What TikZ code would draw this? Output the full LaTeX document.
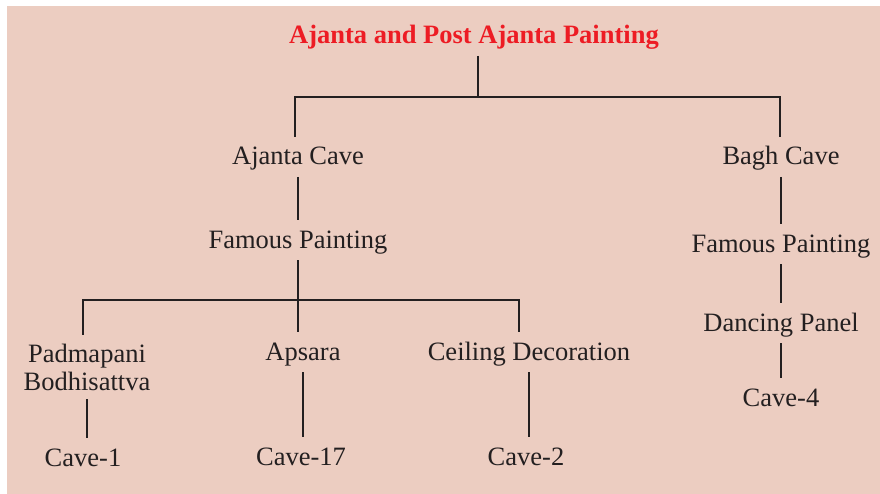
\documentclass[tikz,border=0pt]{standalone}
\usepackage{fontspec}
\setmainfont{Liberation Serif}
\definecolor{bgpink}{RGB}{236,205,193}
\definecolor{titlered}{RGB}{237,28,36}
\definecolor{ink}{RGB}{35,31,32}

\begin{document}
\begin{tikzpicture}[x=1pt,y=-1pt,
        lbl/.style={font=\fontsize{26.5}{28}\selectfont, text=ink, inner sep=0pt, outer sep=6pt, text height=22pt, text depth=6pt},
        ttl/.style={lbl, font=\fontsize{26.5}{28}\selectfont\bfseries, text=titlered},
        link/.style={draw=ink, line width=1.8pt}]
        \useasboundingbox (0,0) rectangle (880,494);
        \fill[white] (0,0) rectangle (880,494);
        \fill[bgpink] (7,6) rectangle (880,494);

        \node[ttl] at (474,36) (title) {Ajanta and Post Ajanta Painting};
        \node[lbl] at (298,157) (acave) {Ajanta Cave};
        \node[lbl] at (298,240) (afam) {Famous Painting};
        \node[lbl] at (781,157) (bcave) {Bagh Cave};
        \node[lbl] at (781,244) (bfam) {Famous Painting};
        \node[lbl] at (781,323) (dance) {Dancing Panel};
        \node[lbl] at (781,398) (cave4) {Cave-4};
        \node[lbl, align=center, text height={}, text depth={}, inner ysep=3pt] at (87,367) (padma) {Padmapani\\Bodhisattva};
        \node[lbl] at (303,352) (apsara) {Apsara};
        \node[lbl] at (529,352) (ceil) {Ceiling Decoration};
        \node[lbl] at (83,458) (cave1) {Cave-1};
        \node[lbl] at (301,457) (cave17) {Cave-17};
        \node[lbl] at (526,457) (cave2) {Cave-2};

        \coordinate (top) at (478,97);
        \coordinate (tl) at (295,97);
        \coordinate (tr) at (780,97);
        \coordinate (ml) at (83,300);
        \coordinate (mr) at (519,300);

        \draw[link] (title.south -| top) -- (top);
        \draw[link] (acave.north -| tl) -- (tl) -- (tr) -- (bcave.north -| tr);
        \draw[link] (acave) -- (afam);
        \draw[link] (afam) -- (afam |- apsara.north);
        \draw[link] (padma.north -| ml) -- (ml) -- (mr) -- (ceil.north -| mr);
        \draw[link] (padma) -- (padma |- cave1.north);
        \draw[link] (apsara) -- (apsara |- cave17.north);
        \draw[link] (ceil) -- (ceil |- cave2.north);
        \draw[link] (bcave) -- (bfam);
        \draw[link] (bfam) -- (dance);
        \draw[link] (dance) -- (cave4);
\end{tikzpicture}
\end{document}
